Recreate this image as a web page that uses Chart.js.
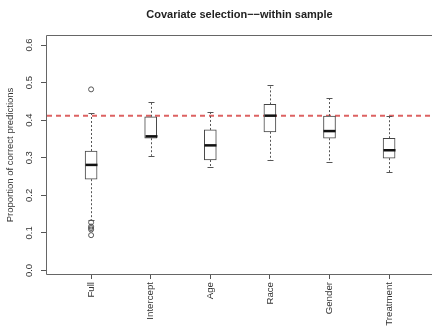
<!DOCTYPE html>
<html>
<head>
<meta charset="utf-8">
<script src="https://cdn.jsdelivr.net/npm/chart.js@4.4.1/dist/chart.umd.min.js"></script>
<style>
  html, body { margin: 0; padding: 0; background: #fff; overflow: hidden; }
  #wrap { width: 432px; height: 328px; }
</style>
</head>
<body>
<div id="wrap"><canvas id="boxChart" width="432" height="328"></canvas></div>
<script>
const categories = ['Full', 'Intercept', 'Age', 'Race', 'Gender', 'Treatment'];
const whiskerLow = [0.135, 0.305, 0.275, 0.294, 0.289, 0.261];
const q1 = [0.243, 0.352, 0.294, 0.369, 0.352, 0.299];
const medians = [0.281, 0.357, 0.333, 0.412, 0.371, 0.320];
const q3 = [0.318, 0.409, 0.374, 0.442, 0.411, 0.352];
const whiskerHigh = [0.418, 0.448, 0.423, 0.494, 0.458, 0.410];
const outlierCategory = ['Full', 'Full', 'Full', 'Full', 'Full', 'Full'];
const outlierValues = [0.482, 0.128, 0.117, 0.113, 0.109, 0.094];
const referenceLine = 0.412;
const yTicks = [0, 0.1, 0.2, 0.3, 0.4, 0.5, 0.6];

const FONT = "'Liberation Sans', Arial, sans-serif";

// whiskers, caps, medians, reference line and frame
const boxExtras = {
    id: 'boxExtras',
    beforeDatasetsDraw(chart) {
        const { ctx, chartArea: { left, right }, scales: { y } } = chart;
        const yy = y.getPixelForValue(referenceLine);
        ctx.save();
        ctx.strokeStyle = 'rgba(215, 70, 70, 0.85)';
        ctx.lineWidth = 2;
        ctx.setLineDash([5, 4]);
        ctx.beginPath();
        ctx.moveTo(left, yy);
        ctx.lineTo(right, yy);
        ctx.stroke();
        ctx.restore();
    },
    afterDatasetsDraw(chart) {
        const { ctx, scales: { x, y } } = chart;
        ctx.save();
        categories.forEach((c, i) => {
            const xx = Math.round(x.getPixelForValue(i + 1)) + 0.5;
            const lo = y.getPixelForValue(whiskerLow[i]);
            const b1 = y.getPixelForValue(q1[i]);
            const b3 = y.getPixelForValue(q3[i]);
            const hi = y.getPixelForValue(whiskerHigh[i]);
            const md = y.getPixelForValue(medians[i]);

            // dashed whiskers
            ctx.strokeStyle = '#555';
            ctx.lineWidth = 1;
            ctx.setLineDash([2, 2]);
            ctx.beginPath();
            ctx.moveTo(xx, b1); ctx.lineTo(xx, lo);
            ctx.moveTo(xx, b3); ctx.lineTo(xx, hi);
            ctx.stroke();

            // caps
            ctx.setLineDash([]);
            ctx.beginPath();
            ctx.moveTo(xx - 3, Math.round(lo) + 0.5); ctx.lineTo(xx + 3, Math.round(lo) + 0.5);
            ctx.moveTo(xx - 3, Math.round(hi) + 0.5); ctx.lineTo(xx + 3, Math.round(hi) + 0.5);
            ctx.stroke();

            // median
            ctx.strokeStyle = '#111';
            ctx.lineWidth = 2.5;
            ctx.beginPath();
            ctx.moveTo(xx - 6, md); ctx.lineTo(xx + 6, md);
            ctx.stroke();
        });
        ctx.restore();
    },
    afterDraw(chart) {
        const { ctx, chartArea: { left, top, right, bottom } } = chart;
        ctx.save();
        ctx.strokeStyle = '#666';
        ctx.lineWidth = 1;
        ctx.beginPath();
        ctx.moveTo(right + 2, top - 0.5);
        ctx.lineTo(left - 0.5, top - 0.5);
        ctx.lineTo(left - 0.5, bottom + 0.5);
        ctx.lineTo(right + 2, bottom + 0.5);
        ctx.stroke();
        ctx.restore();
    }
};

const boxData = categories.map((c, i) => ({ x: i + 1, y: [q1[i], q3[i]] }));
const outlierData = outlierValues.map((v, i) => ({ x: categories.indexOf(outlierCategory[i]) + 1, y: v }));

new Chart(document.getElementById('boxChart'), {
    data: {
        datasets: [
            {
                type: 'bar',
                data: boxData,
                backgroundColor: '#fff',
                borderColor: '#444',
                borderWidth: 1,
                borderSkipped: false,
                barThickness: 12
            },
            {
                type: 'scatter',
                data: outlierData,
                pointStyle: 'circle',
                pointRadius: 2.5,
                borderColor: '#555',
                backgroundColor: 'rgba(0,0,0,0)',
                borderWidth: 1
            }
        ]
    },
    options: {
        responsive: false,
        animation: false,
        devicePixelRatio: 1,
        layout: { padding: 0, autoPadding: false },
        plugins: {
            legend: { display: false },
            tooltip: { enabled: false },
            title: {
                display: true,
                fullSize: false,
                text: 'Covariate selection\u2212\u2212within sample',
                color: '#222',
                font: { family: FONT, size: 11, weight: 'bold' },
                padding: { top: 8, bottom: 14.8 }
            }
        },
        scales: {
            x: {
                type: 'linear',
                offset: false,
                min: 0.26,
                max: 6.72,
                afterBuildTicks: s => { s.ticks = categories.map((c, i) => ({ value: i + 1 })); },
                afterFit: s => { s.height = 54; },
                ticks: {
                    autoSkip: false,
                    minRotation: 90,
                    maxRotation: 90,
                    padding: 3,
                    color: '#333',
                    font: { family: FONT, size: 9.7 },
                    callback: v => categories[Math.round(v) - 1]
                },
                grid: { offset: false, drawOnChartArea: false, drawTicks: true, tickLength: 5, color: '#555' },
                border: { display: false }
            },
            y: {
                min: -0.0093,
                max: 0.624,
                afterBuildTicks: s => { s.ticks = yTicks.map(v => ({ value: v })); },
                afterFit: s => { s.width = 47; },
                ticks: {
                    minRotation: 90,
                    maxRotation: 90,
                    crossAlign: 'center',
                    padding: 5,
                    color: '#333',
                    font: { family: FONT, size: 9.5 },
                    callback: v => v.toFixed(1)
                },
                grid: { drawOnChartArea: false, drawTicks: true, tickLength: 6, color: '#555' },
                border: { display: false },
                title: {
                    display: true,
                    text: 'Proportion of correct predictions',
                    color: '#333',
                    font: { family: FONT, size: 9.5 },
                    padding: { top: 5, bottom: 0 }
                }
            }
        }
    },
    plugins: [boxExtras]
});
</script>
</body>
</html>
